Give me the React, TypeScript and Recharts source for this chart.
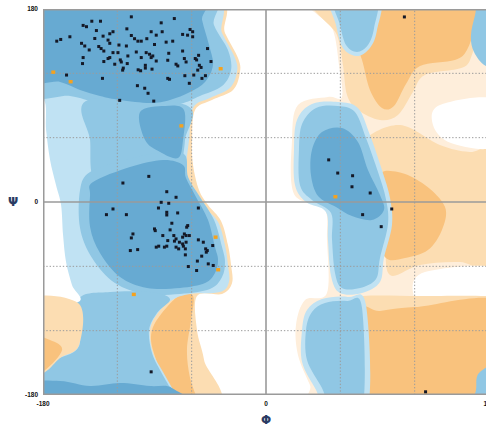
import React from 'react';
import { ScatterChart, Scatter, XAxis, YAxis } from 'recharts';

type Pt = [number, number];

// ---- background regions, outlines as [phi, psi] ----
const peachBase: Pt[] = [
  [40.4, 193], [195, 195], [195, -195], [45.2, -195], [35.5, -170.7], [25.8, -142.7],
  [24.2, -114.8], [31.5, -91.4], [49.2, -84.9], [49.2, -35.5], [46.8, -5.6], [22.6, 7.5],
  [21, 57.8], [25.8, 90.5], [50, 98], [61.3, 98], [58.9, 127.8], [54.1, 160.5],
];
const peachRingTop: Pt[] = [
  [42, 193], [174.3, 193], [171.1, 160.5], [166.2, 137.2], [158.2, 125.1], [128.3, 118.5],
  [118.6, 102.6], [106.5, 81.2], [92, 76.5], [74.2, 85.8], [65.4, 99.8], [62.1, 127.8], [57.3, 155.8],
];
const peachRight: Pt[] = [
  [79.9, 57.8], [108.1, 71.8], [140.4, 53.2], [164.6, 46.7], [195, 48.5], [195, -61.6],
  [156.6, -56], [124.3, -58.8], [100.1, -68.1], [96, -35.5], [92, 11.2], [83.9, 34.5],
];
const orangeTop: Pt[] = [
  [63.8, 193], [171.1, 193], [167.9, 162.3], [162.2, 141.8], [152.5, 132.5], [124.3, 126.9],
  [113, 110.1], [103.3, 89.6], [93.6, 87.7], [83.9, 104.5], [77.5, 132.5], [69.4, 160.5],
];
const orangeMid: Pt[] = [
  [90.4, 22.4], [106.5, 28], [128.3, 15.9], [144.5, -4.7], [142, -26.1], [130.7, -44.8],
  [112.2, -52.2], [96.8, -52.2], [90.4, -28],
];
const whiteUpper: Pt[] = [[140.4, 90.5], [184.8, 95.2], [184.8, 52.2], [149.3, 55], [134.8, 71.8]];
const whiteLower: Pt[] = [[128.3, -65.3], [184.8, -61.6], [184.8, -97], [132.3, -98], [118.6, -84]];
const peachLowBand: Pt[] = [[69.4, -89.6], [124.3, -87.7], [195, -89.6], [195, -108.2], [69.4, -112]];
const orangeBottom: Pt[] = [
  [74.2, -104.5], [92, -101.7], [120.2, -98], [195, -96.1], [195, -195], [74.2, -195],
];
const leftOrangeRim: Pt[] = [
  [-195, 193], [-46.8, 193], [-33.1, 157.7], [-22.6, 134.4], [-21, 121.3], [-26.6, 104.5],
  [-43.6, 95.2], [-57.3, 85.8], [-59.7, 57.8], [-58.9, 34.5], [-54.1, 11.2], [-46.8, -2.8],
  [-36.3, -17.7], [-30.7, -40.1], [-28.2, -58.8], [-27.4, -75.6], [-35.5, -85.8], [-55.7, -87.7],
  [-55.7, -119.4], [-50, -147.4], [-45, -194], [-195, -194],
];
const leftOrangeBand: Pt[] = [
  [-71, -87.7], [-58.9, -87.7], [-60.5, -110.1], [-63.8, -138.1], [-61.3, -164.2], [-54.1, -194],
  [-71, -194], [-87.2, -152.1], [-92, -119.4],
];
const leftLight: Pt[] = [
  [-195, 193], [-49.2, 193], [-35.5, 157.7], [-25, 134.4], [-23.4, 121.3], [-29.1, 106.4],
  [-45.2, 97], [-58.9, 87.7], [-62.1, 57.8], [-64.6, 29.9], [-61.3, 9.3], [-50, -4.7],
  [-38.7, -18.7], [-33.1, -40.1], [-30.7, -58.8], [-29.9, -74.6], [-37.1, -84], [-61.3, -85.8],
  [-75.9, -91.4], [-87.2, -103.6], [-93.6, -119.4], [-91.2, -140.9], [-83.1, -158.6], [-71, -183],
  [-65.4, -194], [-195, -194],
];
const lhLight: Pt[] = [
  [22.6, 48.5], [25, 76.5], [37.1, 91.4], [58.1, 93.3], [74.2, 87.7], [83.9, 62.5], [93.6, 29.9],
  [100.1, 3.7], [101.7, -21.5], [95.2, -52.2], [92, -74.6], [77.5, -84.9], [59.7, -84.9],
  [52.5, -69], [50, -35.5], [48.4, -9.3], [32.3, 0], [23.4, 15.9],
];
const topBlueLight: Pt[] = [
  [52.5, 193], [91.2, 193], [89.6, 160.5], [83.9, 143.7], [73.4, 136.2], [62.1, 143.7], [56.5, 165.1],
];
const bottomBlueLight: Pt[] = [
  [29.1, -119.4], [33.1, -100.8], [45.2, -90.5], [66.2, -88.6], [80.7, -96.1], [81.5, -195],
  [50, -195], [40.4, -175.4], [29.1, -149.3],
];
const leftTopMid: Pt[] = [
  [-195, 197.8], [-50, 197.8], [-42, 165.1], [-30.7, 141.8], [-28.2, 123.2], [-35.5, 108.2],
  [-53.3, 98.9], [-69.4, 91.4], [-93.6, 87.7], [-117.8, 89.6], [-138, 93.3], [-158.2, 98.9], [-195, 104.5],
];
const leftMidMid: Pt[] = [
  [-143.6, 95.2], [-64.6, 90.5], [-65.4, 57.8], [-67.8, 29.9], [-64.6, 11.2], [-109.8, 20.5],
  [-138, 20.5], [-142, 57.8],
];
const leftSecondMid: Pt[] = [
  [-150.1, 11.2], [-142, 28], [-113.8, 39.2], [-81.5, 46.7], [-65.4, 43.9], [-62.9, 23.3],
  [-53.3, 4.7], [-41.9, -16.8], [-35.5, -42], [-33.1, -56], [-35.5, -70], [-45.2, -81.2],
  [-69.4, -85.8], [-97.6, -85.8], [-121.9, -75.6], [-140.4, -52.2], [-150.1, -24.3],
];
const leftBottomMid: Pt[] = [
  [-151.7, -91.4], [-125.9, -84], [-93.6, -84], [-77.5, -90.5], [-88, -103.6], [-94.4, -119.4],
  [-92, -140.9], [-84.7, -158.6], [-72.6, -182.9], [-67.8, -194], [-195, -194], [-195, -167.9],
  [-174.3, -149.3], [-150.9, -134.4],
];
const lhMid: Pt[] = [
  [26.6, 48.5], [29.1, 72.8], [40.4, 87.7], [58.1, 89.6], [71.8, 84], [80.7, 59.7], [90.4, 28],
  [96.8, 2.8], [98.5, -20.5], [92, -52.2], [88.8, -71.8], [75.9, -80.2], [61.3, -80.2],
  [55.7, -66.2], [53.3, -35.5], [52.5, -10.3], [37.1, 1.9], [27.4, 15.9],
];
const topBlueMid: Pt[] = [
  [54.9, 193], [88.8, 193], [87.2, 162.3], [82.3, 146.5], [73.4, 140], [64.6, 146.5], [59.7, 165.1],
];
const topRightBlue: Pt[] = [
  [173.5, 193], [195, 193], [195, 121.3], [177.5, 126.9], [167.9, 140], [165.4, 154.9], [168.7, 174.1],
];
const bottomBlueMid: Pt[] = [
  [32.3, -119.4], [37.1, -102.6], [47.6, -94.2], [65.4, -92.4], [77.5, -98.9], [77.5, -195],
  [54.1, -195], [45.2, -173.5], [33.1, -147.4],
];
const bottomRightBlue: Pt[] = [
  [172.7, -158.6], [195, -149.3], [195, -195], [167.9, -195], [169.5, -175.4],
];
const leftTopDark: Pt[] = [
  [-195, 197.8], [-55.7, 197.8], [-51.6, 169.8], [-46, 146.5], [-42.8, 127.8], [-49.2, 112],
  [-61.3, 102.6], [-77.5, 95.2], [-93.6, 92.4], [-117.8, 95.2], [-134, 98.9], [-150.1, 104.5],
  [-166.2, 112], [-195, 117.6],
];
const leftPatchDark: Pt[] = [
  [-101.7, 84], [-81.5, 89.6], [-66.2, 85.8], [-67, 57.8], [-71, 41.1], [-85.5, 46.7], [-97.6, 57.8],
];
const leftSecondDark: Pt[] = [
  [-139.6, 18.7], [-109.8, 32.7], [-83.1, 39.2], [-67, 34.5], [-64.6, 22.4], [-56.5, 4.7],
  [-46.8, -16.8], [-41.2, -42], [-38.7, -54.1], [-41.2, -66.2], [-49.2, -75.6], [-69.4, -80.2],
  [-96, -80.2], [-117.8, -70], [-134, -47.6], [-142, -23.3], [-142, 6.5],
];
const leftBottomDark: Pt[] = [
  [-195, -169.8], [-166.2, -167], [-142, -171.7], [-117.8, -168.9], [-93.6, -171.7],
  [-75.9, -173.5], [-65.4, -194], [-195, -194],
];
const lhDark: Pt[] = [
  [37.1, 48.5], [45.2, 65.3], [61.3, 69], [74.2, 56], [82.3, 29.9], [92, 6.5], [95.2, -7.5],
  [85.5, -16.8], [69.4, -13.1], [56.5, -4.7], [42, 5.6], [36.3, 25.2],
];
const leftWhiteNotch: Pt[] = [
  [-195, 95.2], [-179.2, 95.2], [-177.5, 67.2], [-174.3, 39.2], [-169.5, 15.9], [-165.4, -2.8],
  [-163.8, -30.8], [-161.4, -56], [-156.6, -77.4], [-151.7, -93.3], [-195, -96.1],
];
const leftPeachNotch: Pt[] = [
  [-195, -94.2], [-151.7, -94.2], [-150.9, -133.4], [-166.2, -145.5], [-178.3, -158.6], [-195, -166],
];
const leftOrangeNotch: Pt[] = [
  [-195, -124.1], [-174.3, -128.8], [-164.6, -138.1], [-178.3, -156.7], [-195, -164.2],
];

// ---- residues ----
const residues: Pt[] = [
  [-108.7, 172.7], [-74.0, 171.1], [-140.6, 168.6], [-133.6, 168.6], [-147.6, 164.7], [-144.9, 163.5],
  [-84.6, 167.1], [-112.3, 161.5], [-136.9, 159.9], [-123.5, 158.8], [-126.1, 156.9], [-92.7, 158.8],
  [-88.6, 155.6], [-83.8, 158.8], [-61.3, 160.9], [-59.2, 158.8], [-67.3, 156.3], [-63.3, 155.6],
  [-158.3, 154.1], [-138.2, 152.5], [-131.5, 154.7], [-108.7, 155.3], [-106.1, 152.3], [-127.5, 151.0],
  [-168.9, 150.0], [-165.7, 151.6], [-103.4, 150.0], [-100.7, 150.0], [-96.2, 152.3], [-80.6, 149.1],
  [-75.3, 150.0], [-59.2, 154.1], [-148.9, 148.0], [-146.3, 145.5], [-126.1, 148.0], [-118.7, 146.4],
  [-112.7, 145.5], [-135.0, 145.0], [-133.1, 143.1], [-90.0, 146.9], [-47.2, 143.1], [-142.7, 141.8],
  [-130.9, 140.8], [-123.5, 139.3], [-119.5, 139.3], [-104.7, 139.9], [-96.7, 139.3], [-94.0, 137.8],
  [-91.4, 136.2], [-92.7, 134.7], [-78.5, 138.7], [-67.3, 140.8], [-54.4, 136.8], [-111.5, 136.2],
  [-147.6, 134.7], [-126.1, 134.7], [-127.5, 133.8], [-100.7, 134.7], [-88.6, 131.5], [-57.1, 133.8],
  [-56.0, 132.5], [-65.9, 133.8], [-117.6, 132.5], [-116.8, 130.6], [-130.9, 131.0], [-122.1, 128.5],
  [-148.1, 129.1], [-112.0, 129.1], [-79.3, 132.2], [-72.6, 128.5], [-71.2, 126.9], [-64.5, 130.6],
  [-53.8, 127.5], [-44.4, 131.0], [-97.4, 127.5], [-115.2, 124.9], [-115.7, 123.0], [-103.2, 123.3],
  [-101.2, 122.4], [-97.4, 124.9], [-92.0, 123.9], [-55.1, 123.0], [-52.4, 125.5], [-161.0, 118.4],
  [-58.3, 118.4], [-48.9, 117.8], [-65.5, 117.8], [-51.7, 115.3], [-132.0, 115.3], [-79.3, 115.3],
  [-77.9, 114.4], [-61.9, 110.7], [-103.8, 108.5], [-97.9, 106.1], [-95.2, 101.4], [-118.1, 94.8],
  [-90.6, 94.1],
  [-94.6, 23.9], [-115.5, 17.7], [-80.1, 9.6], [-72.6, 4.4], [-84.6, -0.3], [-78.5, -1.2],
  [-86.8, -5.6], [-123.5, -6.5], [-128.8, -11.8], [-112.7, -11.8], [-80.1, -9.6], [-80.1, -12.1],
  [-71.3, -10.2], [-54.6, -5.6], [-76.0, -19.8], [-63.2, -22.0], [-64.0, -23.5], [-90.0, -25.1],
  [-89.4, -26.7], [-77.4, -26.0], [-107.4, -29.8], [-108.7, -33.5], [-65.9, -29.8], [-64.5, -31.3],
  [-67.3, -32.8], [-83.3, -31.3], [-74.4, -31.3], [-72.6, -34.4], [-73.9, -36.5], [-69.9, -37.5],
  [-67.3, -39.1], [-64.5, -37.5], [-61.9, -31.3], [-54.6, -35.3], [-50.6, -37.5], [-79.3, -36.0],
  [-43.0, -40.6], [-88.6, -42.1], [-86.6, -41.2], [-82.0, -42.1], [-80.1, -41.2], [-72.6, -42.1],
  [-70.5, -43.7], [-66.7, -41.2], [-65.1, -43.7], [-109.5, -45.3], [-103.6, -44.4], [-48.7, -43.7],
  [-47.4, -45.3], [-48.2, -46.8], [-51.9, -50.5], [-65.1, -49.3], [-55.4, -55.1], [-46.6, -57.7],
  [-42.6, -59.2], [-62.7, -60.2], [-56.0, -63.9],
  [-92.7, -158.4], [111.7, 172.6], [50.6, 39.3], [57.9, 27.0], [69.9, 24.5], [69.4, 14.2],
  [84.1, 8.4], [101.5, -6.5], [78.0, -11.8], [93.0, -23.0], [128.8, -177],
];
const outliers: Pt[] = [
  [-171.7, 121.1], [-157.7, 112.2], [-36.6, 124.3], [-68.3, 71.0], [-40.7, -32.8],
  [-38.6, -63.2], [-106.7, -86.2], [56.0, 4.9],
];

const gridSteps = [-120, -60, 60, 120];
const centerSteps = [0];
const edgeSteps = [-180, 180];
const axisTicks = [-180, 0, 180];

const BLUE_1 = '#C0E2F3';
const BLUE_2 = '#90C7E4';
const BLUE_3 = '#67AAD2';
const ORANGE = '#F9C27D';
const PEACH = '#FCDDB2';
const PEACH_PALE = '#FEEEDB';

const regions: { pts: Pt[]; color: string }[] = [
  { pts: peachBase, color: PEACH_PALE },
  { pts: peachRingTop, color: PEACH },
  { pts: peachRight, color: PEACH },
  { pts: orangeTop, color: ORANGE },
  { pts: orangeMid, color: ORANGE },
  { pts: whiteUpper, color: '#FFFFFF' },
  { pts: whiteLower, color: '#FFFFFF' },
  { pts: peachLowBand, color: PEACH },
  { pts: orangeBottom, color: ORANGE },
  { pts: leftOrangeRim, color: PEACH },
  { pts: leftOrangeBand, color: ORANGE },
  { pts: leftLight, color: BLUE_1 },
  { pts: lhLight, color: BLUE_1 },
  { pts: topBlueLight, color: BLUE_1 },
  { pts: bottomBlueLight, color: BLUE_1 },
  { pts: leftTopMid, color: BLUE_2 },
  { pts: leftMidMid, color: BLUE_2 },
  { pts: leftSecondMid, color: BLUE_2 },
  { pts: leftBottomMid, color: BLUE_2 },
  { pts: lhMid, color: BLUE_2 },
  { pts: topBlueMid, color: BLUE_2 },
  { pts: topRightBlue, color: BLUE_2 },
  { pts: bottomBlueMid, color: BLUE_2 },
  { pts: bottomRightBlue, color: BLUE_2 },
  { pts: leftTopDark, color: BLUE_3 },
  { pts: leftPatchDark, color: BLUE_3 },
  { pts: leftSecondDark, color: BLUE_3 },
  { pts: leftBottomDark, color: BLUE_3 },
  { pts: lhDark, color: BLUE_3 },
  { pts: leftWhiteNotch, color: '#FFFFFF' },
  { pts: leftPeachNotch, color: PEACH },
  { pts: leftOrangeNotch, color: ORANGE },
];

// straight guide lines, each as two [phi, psi] ends
type Guide = { ends: Pt[]; stroke: string; width: number; dash?: string };
const guides: Guide[] = [
  ...gridSteps.map((v) => ({ ends: [[v, -180], [v, 180]] as Pt[], stroke: '#9c9c9c', width: 1, dash: '1.4 1.9' })),
  ...gridSteps.map((v) => ({ ends: [[-180, v], [180, v]] as Pt[], stroke: '#9c9c9c', width: 1, dash: '1.4 1.9' })),
  ...centerSteps.map((v) => ({ ends: [[v, -180], [v, 180]] as Pt[], stroke: '#9a9a9a', width: 1.6 })),
  ...centerSteps.map((v) => ({ ends: [[-180, v], [180, v]] as Pt[], stroke: '#9a9a9a', width: 1.6 })),
  ...edgeSteps.map((v) => ({ ends: [[v, -180], [v, 180]] as Pt[], stroke: '#9a9a9a', width: 3 })),
  ...edgeSteps.map((v) => ({ ends: [[-180, v], [180, v]] as Pt[], stroke: '#9a9a9a', width: 3 })),
];

const toData = (pts: Pt[]) => pts.map(([phi, psi]) => ({ phi, psi }));

// closed Catmull-Rom path through the scaled outline points
function smoothPath(pts: { x: number; y: number }[]) {
  const n = pts.length;
  let d = `M${pts[0].x},${pts[0].y}`;
  for (let i = 0; i < n; i++) {
    const p0 = pts[(i - 1 + n) % n];
    const p1 = pts[i];
    const p2 = pts[(i + 1) % n];
    const p3 = pts[(i + 2) % n];
    const c1x = p1.x + (p2.x - p0.x) / 6;
    const c1y = p1.y + (p2.y - p0.y) / 6;
    const c2x = p2.x - (p3.x - p1.x) / 6;
    const c2y = p2.y - (p3.y - p1.y) / 6;
    d += ` C${c1x},${c1y} ${c2x},${c2y} ${p2.x},${p2.y}`;
  }
  return d + 'Z';
}

function RegionPath(props: any) {
  const { points, color } = props;
  if (!points || points.length < 3) return null;
  return <path d={smoothPath(points)} fill={color} stroke="none" />;
}

function GuidePath(props: any) {
  const { points, lineColor, lineWidth, dash } = props;
  if (!points || points.length < 2) return null;
  const [a, b] = points;
  return (
    <path
      d={`M${a.x},${a.y}L${b.x},${b.y}`}
      fill="none"
      stroke={lineColor}
      strokeWidth={lineWidth}
      strokeDasharray={dash}
    />
  );
}

const NoPoint = () => <g />;
const ResidueDot = (p: any) => (
  <rect x={p.cx - 1.5} y={p.cy - 1.5} width={3} height={3} fill="#141826" />
);
const OutlierDot = (p: any) => (
  <rect x={p.cx - 2} y={p.cy - 1.7} width={4} height={3.4} fill="#F5A21E" />
);

const tickStyle = { fontSize: 6.5, fontWeight: 700, fill: '#111', fontFamily: 'Liberation Sans, Arial, sans-serif' };
const titleStyle = { fontSize: 12, fontWeight: 700, fill: '#2a3b63', fontFamily: 'DejaVu Sans, sans-serif' };

export default function App() {
  return (
    <div style={{ position: 'fixed', left: 0, top: 0, width: 486, height: 430, overflow: 'hidden', background: '#fff' }}>
      <ScatterChart width={500} height={430} margin={{ top: 9, right: 11, bottom: 0, left: 0 }}>
        <XAxis
          type="number"
          dataKey="phi"
          domain={[-180, 180]}
          allowDataOverflow
          ticks={axisTicks}
          interval={0}
          tick={tickStyle}
          tickLine={false}
          axisLine={false}
          tickSize={3}
          tickMargin={3}
          height={35}
          label={{ value: 'Φ', position: 'insideBottom', offset: 6, ...titleStyle }}
        />
        <YAxis
          type="number"
          dataKey="psi"
          domain={[-180, 180]}
          allowDataOverflow
          ticks={axisTicks}
          interval={0}
          tick={tickStyle}
          tickLine={false}
          axisLine={false}
          tickSize={3}
          tickMargin={2}
          width={43}
          label={{ value: 'Ψ', position: 'insideLeft', offset: 8, ...titleStyle }}
        />
        {regions.map((r, i) => (
          <Scatter
            key={`region-${i}`}
            data={toData(r.pts)}
            line={<RegionPath color={r.color} />}
            lineType="joint"
            shape={NoPoint}
            legendType="none"
            isAnimationActive={false}
          />
        ))}
        {guides.map((g, i) => (
          <Scatter
            key={`guide-${i}`}
            data={toData(g.ends)}
            line={<GuidePath lineColor={g.stroke} lineWidth={g.width} dash={g.dash} />}
            lineType="joint"
            shape={NoPoint}
            legendType="none"
            isAnimationActive={false}
          />
        ))}
        <Scatter data={toData(residues)} shape={ResidueDot} legendType="none" isAnimationActive={false} />
        <Scatter data={toData(outliers)} shape={OutlierDot} legendType="none" isAnimationActive={false} />
      </ScatterChart>
    </div>
  );
}
